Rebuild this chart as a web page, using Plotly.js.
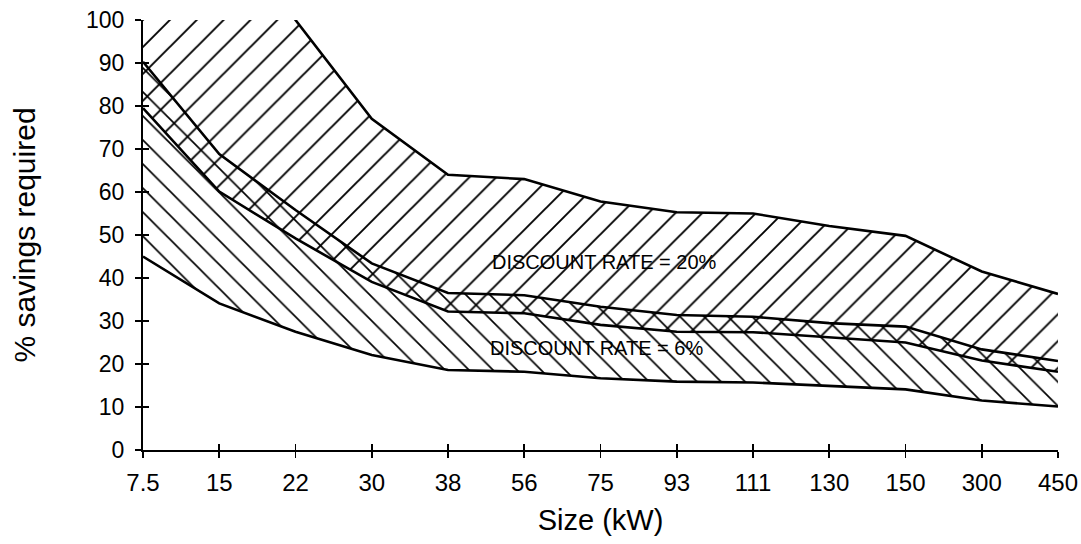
<!DOCTYPE html>
<html>
<head>
<meta charset="utf-8">
<script src="https://cdn.plot.ly/plotly-3.0.1.min.js"></script>
<style>html,body{margin:0;padding:0;background:#fff;}#chart{width:1081px;height:544px;}</style>
</head>
<body>
<div id="chart"></div>
<script>
// Size categories (kW)
const sizes = ["7.5","15","22","30","38","56","75","93","111","130","150","300","450"];
// Discount rate = 20% band: upper bound and lower bound (% savings required)
const rate20Upper = [150, 125, 100, 77, 64, 63, 57.8, 55.3, 55, 52.1, 49.8, 41.5, 36.3];
const rate20Lower = [79.5, 60.1, 49.2, 39.1, 32.2, 31.8, 29.1, 27.5, 27.4, 26.2, 25, 20.8, 18.2];
// Discount rate = 6% band: upper bound and lower bound
const rate6Upper = [90.3, 68.8, 55.8, 43.4, 36.5, 36, 33.3, 31.4, 31, 29.5, 28.7, 23.4, 20.7];
const rate6Lower = [45, 34.1, 27.5, 22.1, 18.6, 18.2, 16.7, 15.9, 15.7, 14.9, 14.1, 11.5, 10.1];
const yTicks = [0,10,20,30,40,50,60,70,80,90,100];

const font = "Liberation Sans, Arial, sans-serif";
const lineStyle = {color: "#000", width: 2.6, shape: "linear"};
const clear = "rgba(0,0,0,0)";

const traces = [
  {x: sizes, y: rate20Lower, mode: "lines", line: lineStyle, showlegend: false, hoverinfo: "skip"},
  {x: sizes, y: rate20Upper, mode: "lines", line: lineStyle, fill: "tonexty", fillcolor: clear,
   fillpattern: {shape: "/", fgcolor: "#000", bgcolor: clear, size: 19, solidity: 0.1},
   showlegend: false, hoverinfo: "skip"},
  {x: sizes, y: rate6Lower, mode: "lines", line: lineStyle, showlegend: false, hoverinfo: "skip"},
  {x: sizes, y: rate6Upper, mode: "lines", line: lineStyle, fill: "tonexty", fillcolor: clear,
   fillpattern: {shape: "\\", fgcolor: "#000", bgcolor: clear, size: 17, solidity: 0.1},
   showlegend: false, hoverinfo: "skip"},
  // helper trace for the inner half of the crossing tick marks
  {x: sizes, y: rate6Lower, xaxis: "x2", yaxis: "y2", mode: "lines", line: {width: 0, color: clear},
   showlegend: false, hoverinfo: "skip"}
];

const xCommon = {type: "category", categoryorder: "array", categoryarray: sizes, range: [0, sizes.length - 1],
  showgrid: false, zeroline: false};
const yCommon = {range: [0, 100], tickvals: yTicks, showgrid: false, zeroline: false};

const layout = {
  width: 1081, height: 544,
  margin: {l: 143, r: 23, t: 20, b: 94},
  paper_bgcolor: "#fff", plot_bgcolor: "#fff",
  font: {family: font, color: "#000", size: 22},
  showlegend: false,
  xaxis: Object.assign({}, xCommon, {
    showline: true, linecolor: "#000", linewidth: 2,
    ticks: "outside", ticklen: 6, tickwidth: 1.6, tickcolor: "#000",
    tickfont: {family: font, size: 24, color: "#000"}, ticklabelstandoff: 4,
    title: {text: "Size (kW)", font: {family: font, size: 29, color: "#000"}, standoff: 15}
  }),
  yaxis: Object.assign({}, yCommon, {
    showline: true, linecolor: "#000", linewidth: 2,
    ticks: "outside", ticklen: 6, tickwidth: 1.6, tickcolor: "#000",
    tickfont: {family: font, size: 23, color: "#000"}, ticklabelstandoff: 6,
    title: {text: "% savings required", font: {family: font, size: 30, color: "#000"}, standoff: 42}
  }),
  xaxis2: Object.assign({}, xCommon, {overlaying: "x", anchor: "y2", side: "bottom",
    showline: false, ticks: "inside", ticklen: 6, tickwidth: 1.6, tickcolor: "#000", showticklabels: false}),
  yaxis2: Object.assign({}, yCommon, {overlaying: "y", anchor: "x2", side: "left",
    showline: false, ticks: "inside", ticklen: 6, tickwidth: 1.6, tickcolor: "#000", showticklabels: false}),
  annotations: [
    {x: 6.05, y: 43.7, xref: "x", yref: "y", text: "DISCOUNT RATE = 20%", showarrow: false,
     font: {family: font, size: 20, color: "#000"}, bgcolor: clear},
    {x: 5.95, y: 23.7, xref: "x", yref: "y", text: "DISCOUNT RATE = 6%", showarrow: false,
     font: {family: font, size: 20, color: "#000"}, bgcolor: clear}
  ]
};

Plotly.newPlot("chart", traces, layout, {displayModeBar: false, staticPlot: true});
</script>
</body>
</html>
